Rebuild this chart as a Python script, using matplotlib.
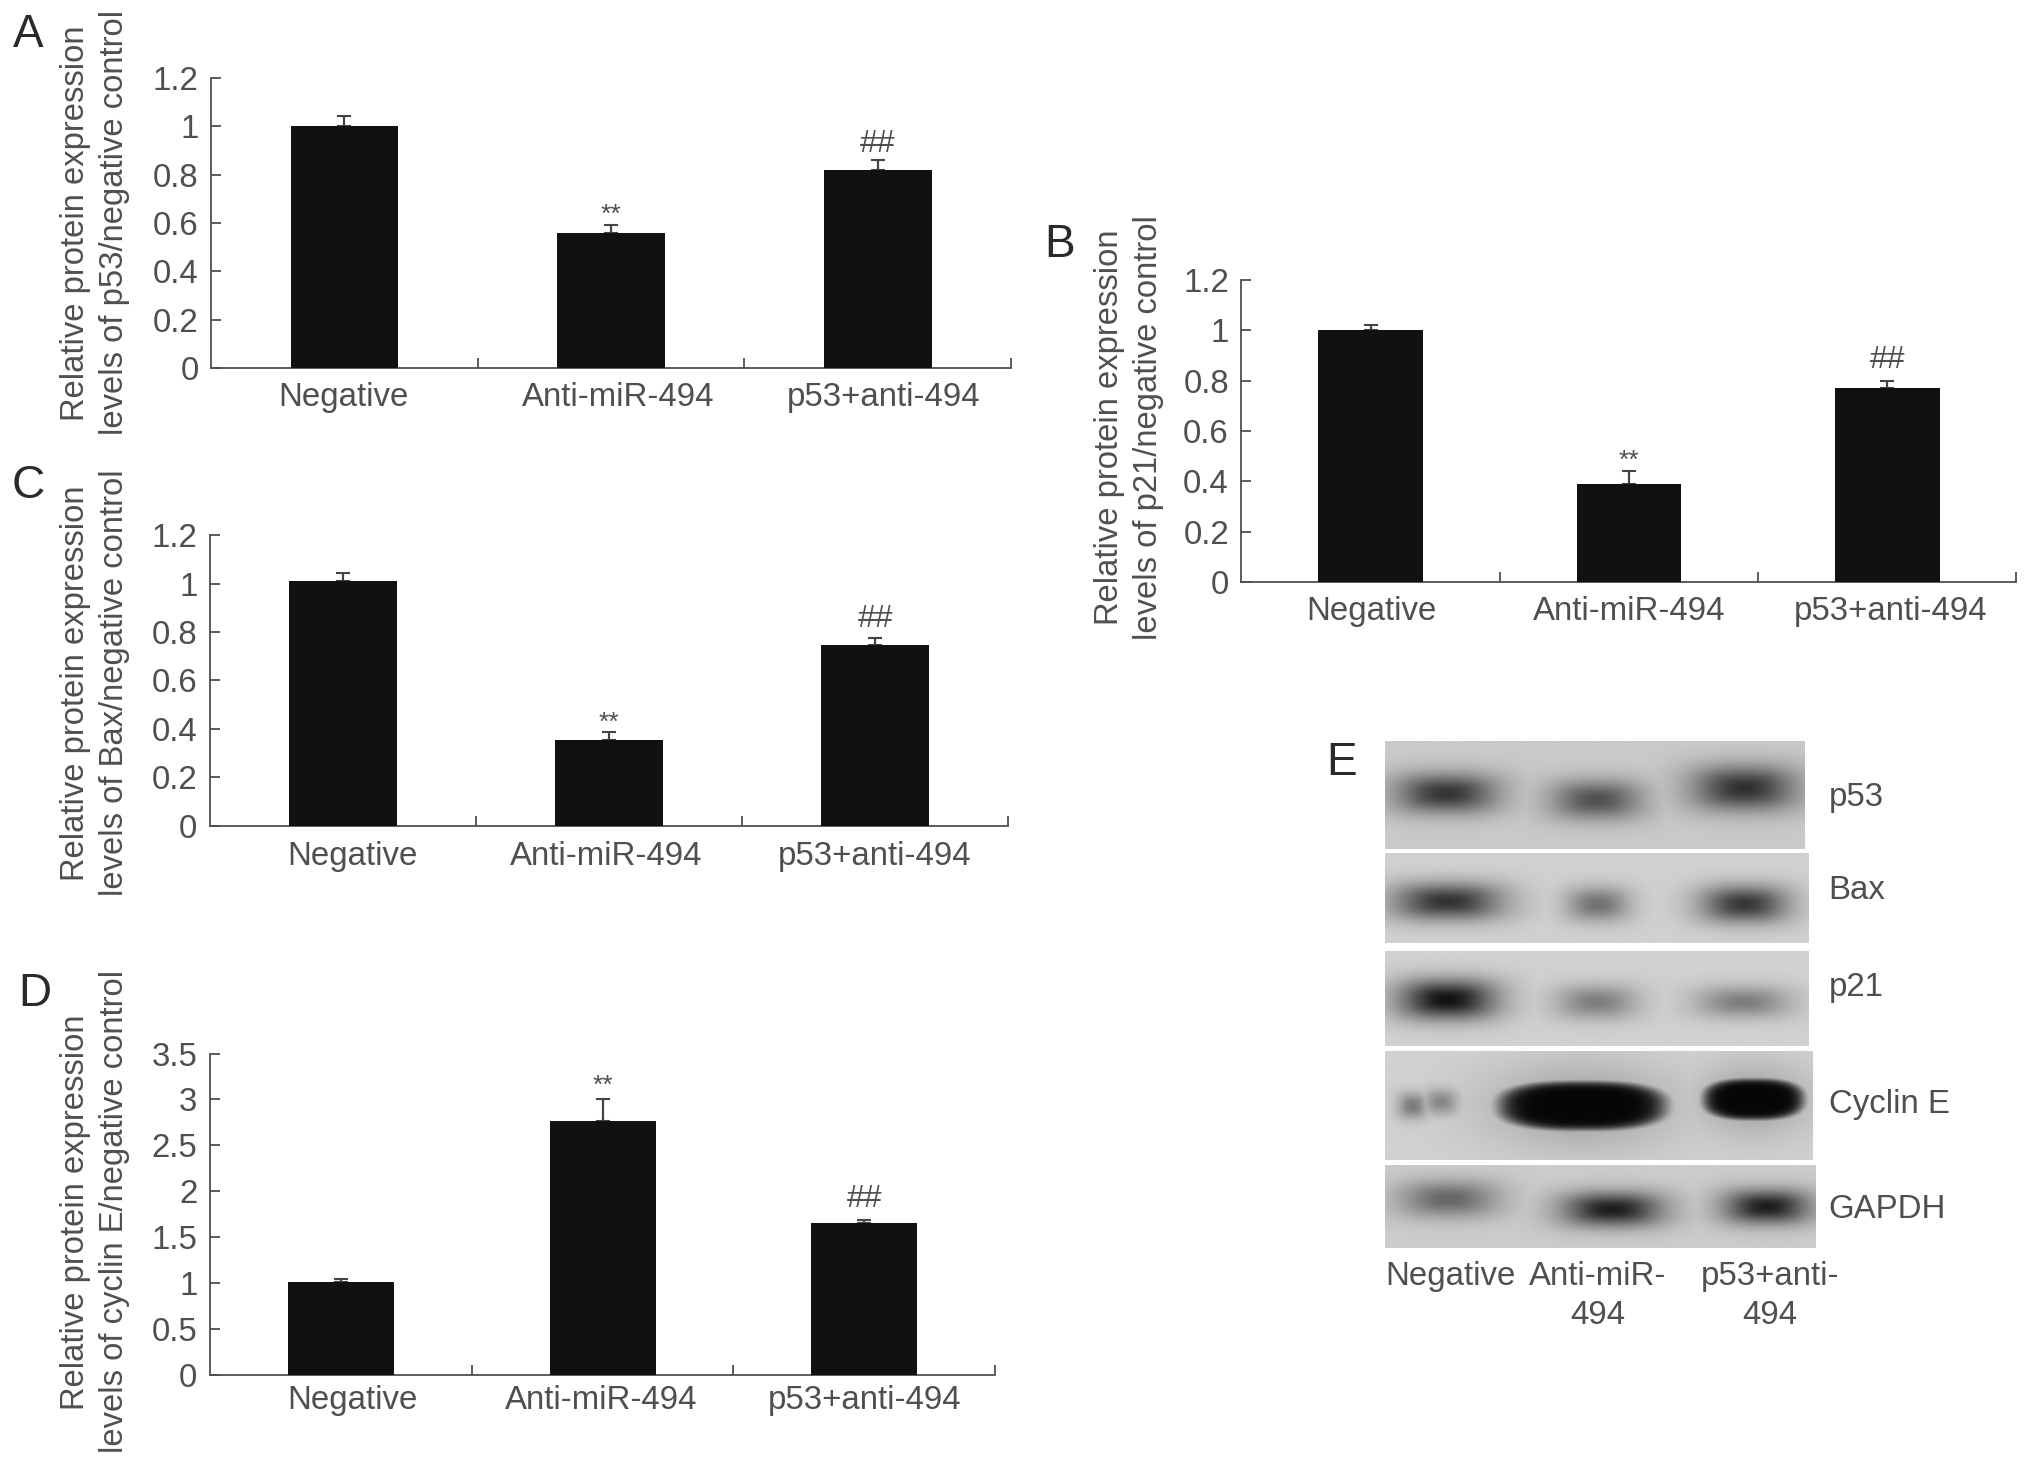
import numpy as np
import matplotlib
matplotlib.use("Agg")
import matplotlib.pyplot as plt

plt.rcParams['font.family'] = ['Liberation Sans', 'DejaVu Sans']

categories = ['Negative', 'Anti-miR-494', 'p53+anti-494']
p53_vals = [1.0, 0.56, 0.82]
p53_errs = [0.04, 0.03, 0.04]
p21_vals = [1.0, 0.39, 0.77]
p21_errs = [0.02, 0.05, 0.03]
bax_vals = [1.01, 0.355, 0.745]
bax_errs = [0.035, 0.03, 0.03]
cyc_vals = [1.01, 2.77, 1.66]
cyc_errs = [0.03, 0.23, 0.03]
ticks_12 = [0, 0.2, 0.4, 0.6, 0.8, 1, 1.2]
ticks_35 = [0, 0.5, 1, 1.5, 2, 2.5, 3, 3.5]
blot_names = ['p53', 'Bax', 'p21', 'Cyclin E', 'GAPDH']

W, H = 2032, 1465
S = 2032 / 1568
GREY = '#4f4f4f'
FS = 23.8

fig = plt.figure(figsize=(W / 100, H / 100), dpi=100, facecolor='white')


def make_axes(l, r, top, bot):
    return fig.add_axes([l * S / W, 1 - bot * S / H, (r - l) * S / W, (bot - top) * S / H])


overlay = fig.add_axes([0, 0, 1, 1], zorder=-1)
overlay.set_xlim(0, 1568)
overlay.set_ylim(1130.4, 0)
overlay.axis('off')


def panel(box, vals, errs, ticks, ymax, ylab, lab_x, lab_y, star_dy, hash_dy, cat_x, cat_y):
    ax = make_axes(*box)
    x = np.arange(3) + 0.5
    ax.bar(x, vals, width=0.405, color='#111111', edgecolor='none', zorder=3)
    ax.errorbar(x, vals, yerr=[[0, 0, 0], errs], fmt='none', ecolor='#444444',
                elinewidth=1.6, capsize=5, capthick=1.5, zorder=2)
    ax.set_xlim(0, 3)
    ax.set_ylim(0, ymax)
    ax.set_yticks(ticks)
    ax.set_yticklabels([f'{t:g}' for t in ticks], fontsize=FS, color=GREY)
    ax.set_xticks([1, 2, 3])
    ax.set_xticklabels([])
    ax.tick_params(axis='y', direction='in', length=7, width=1.3, color=GREY, pad=9)
    ax.tick_params(axis='x', direction='in', length=7, width=1.3, color=GREY)
    for px, c in zip(cat_x, categories):
        overlay.text(px, cat_y, c, ha='center', va='center', fontsize=FS, color=GREY)
    for s in ('top', 'right'):
        ax.spines[s].set_visible(False)
    for s in ('left', 'bottom'):
        ax.spines[s].set_color(GREY)
        ax.spines[s].set_linewidth(1.3)
    ax.patch.set_alpha(0)
    ax.annotate('**', (x[1], vals[1] + errs[1]), xytext=(0, star_dy), textcoords='offset points',
                ha='center', va='bottom', fontsize=19, color=GREY)
    ax.annotate('##', (x[2], vals[2] + errs[2]), xytext=(0, hash_dy), textcoords='offset points',
                ha='center', va='bottom', fontsize=23, color=GREY)
    overlay.text(lab_x, lab_y, ylab, rotation=90, ha='center', va='center', fontsize=23.6,
                 color=GREY, linespacing=1.32, multialignment='center')
    return ax


YL = 'Relative protein expression\nlevels of {}/negative control'
panel((163, 780, 60, 284), p53_vals, p53_errs, ticks_12, 1.2, YL.format('p53'), 73.5, 172, -1, 1,
      (265, 477, 682), 307)
panel((958, 1556, 216, 449), p21_vals, p21_errs, ticks_12, 1.2, YL.format('p21'), 871, 330, -1, 4,
      (1058, 1257, 1459), 472)
panel((162, 778, 413, 637), bax_vals, bax_errs, ticks_12, 1.2, YL.format('Bax'), 73.5, 527, -2, 3,
      (272, 468, 675), 661)
panel((162, 768, 813, 1061), cyc_vals, cyc_errs, ticks_35, 3.5, YL.format('cyclin E'), 73.5, 935, 1, 4,
      (272, 464, 667), 1081)

for letter, px, py in [('A', 22, 27), ('B', 818, 189), ('C', 22, 375), ('D', 27, 767), ('E', 1035, 589)]:
    overlay.text(px, py, letter, ha='center', va='center', fontsize=33, color='#2a2a2a')

# Western blot strips: extent (x0, x1, y0, y1), background level
strips = [(1069, 1393, 572, 655, 0.79), (1069, 1396, 659, 728, 0.82), (1069, 1396, 734, 807, 0.82),
          (1069, 1399, 811, 895, 0.82), (1069, 1401, 899, 963, 0.80)]
# band (cx, cy, half-width, half-height, darkness, sharpness) per strip
bands = [
    [(1116, 612, 39, 15, 0.74, 2), (1232, 617, 35, 15, 0.60, 2), (1346, 608, 40, 17, 0.76, 2)],
    [(1117, 696, 42, 14, 0.76, 2), (1233, 698, 24, 13, 0.46, 2), (1346, 698, 33, 14, 0.74, 2)],
    [(1117, 771, 37, 15, 0.92, 2), (1232, 773, 31, 13, 0.40, 2), (1345, 773, 36, 12, 0.40, 2)],
    [(1090, 853, 11, 10, 0.42, 2), (1112, 850, 13, 10, 0.36, 2), (1221, 853, 65, 19, 0.97, 9), (1353, 848, 39, 16, 0.97, 9)],
    [(1118, 925, 38, 14, 0.50, 2), (1244, 933, 38, 13, 0.86, 2), (1363, 931, 33, 13, 0.86, 2)],
]
for (x0, x1, y0, y1, bg), bs in zip(strips, bands):
    xx, yy = np.meshgrid(np.arange(x0, x1, 0.5), np.arange(y0, y1, 0.5))
    g = np.zeros_like(xx)
    for cx, cy, w, h, d, p in bs:
        r = (np.abs((xx - cx) / w) ** 2.6 + np.abs((yy - cy) / h) ** 2.6) ** (1 / 2.6)
        g = np.maximum(g, d * np.exp(-r ** p))
        if p > 2:
            r2 = (np.abs((xx - cx) / (w * 1.15)) ** 2 + np.abs((yy - cy) / (h * 1.8)) ** 2) ** 0.5
            g = np.maximum(g, 0.22 * np.exp(-r2 ** 2))
    overlay.imshow(bg * (1 - g), extent=(x0, x1, y1, y0), cmap='gray', vmin=0, vmax=1,
                   aspect='auto', interpolation='bilinear')
overlay.set_xlim(0, 1568)
overlay.set_ylim(1130.4, 0)

for name, py in zip(blot_names, [615, 687, 762, 852, 933]):
    overlay.text(1411, py, name, ha='left', va='center', fontsize=FS, color=GREY)
for txt, px, py in [('Negative', 1119, 985), ('Anti-miR-', 1233, 985), ('494', 1233, 1015),
                    ('p53+anti-', 1366, 985), ('494', 1366, 1015)]:
    overlay.text(px, py, txt, ha='center', va='center', fontsize=FS, color=GREY)

fig.savefig('out.png', dpi=100, facecolor='white')
